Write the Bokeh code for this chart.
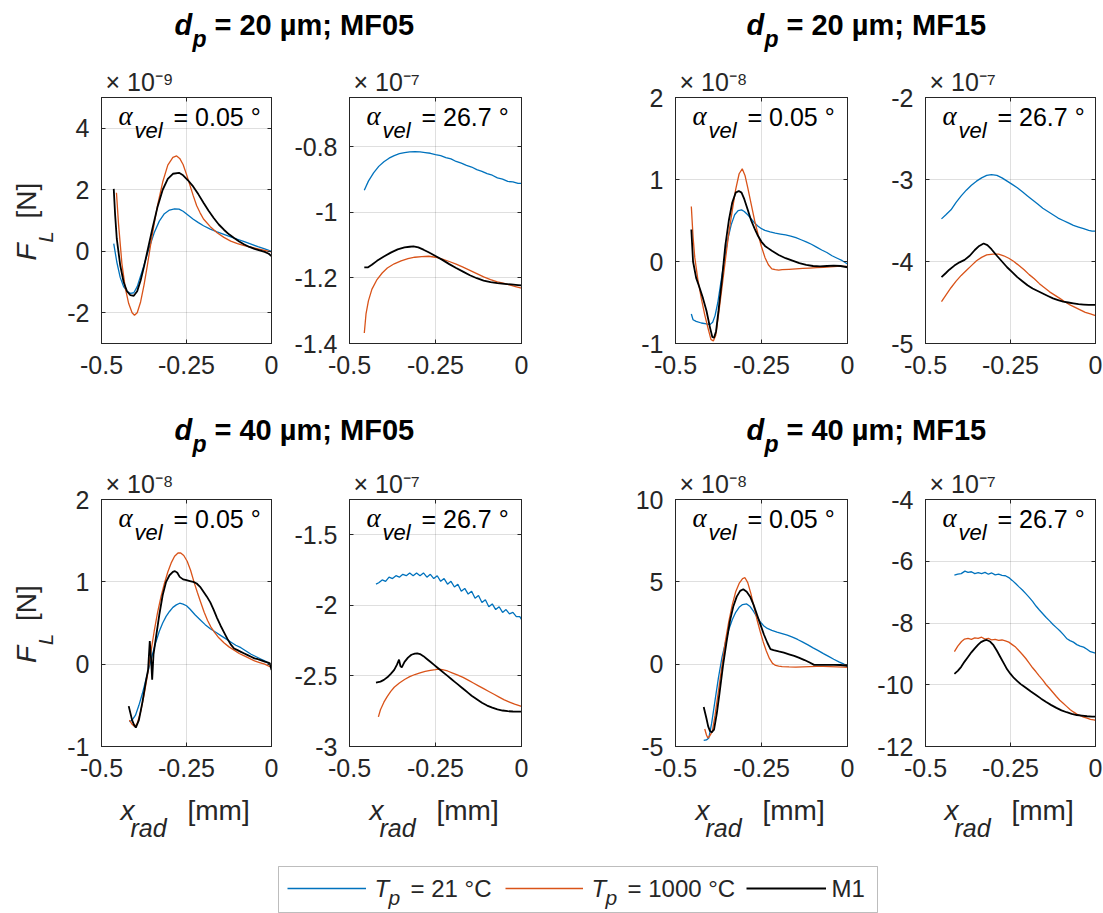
import math
from bokeh.plotting import figure
from bokeh.models import (Range1d, FixedTicker, CustomJSTickFormatter, LinearAxis,
                          Label, Legend, LegendItem, BoxAnnotation, Title)
from bokeh.layouts import column, row
from bokeh.embed import file_html
from bokeh.resources import INLINE

FONT = "Liberation Sans"
AX = "#262626"
BLUE = "#0072BD"
ORANGE = "#D95319"
BLACK = "#000000"

XTICKS = [-0.5, -0.25, 0.0]

# ---------------- data (values in units of the panel exponent) ----------------
# Panel 1: dp = 20 um, MF05, alpha 0.05 deg  (x1e-9)
p1_x_t21 = [-0.464, -0.455, -0.445, -0.435, -0.425, -0.415, -0.405, -0.395, -0.385, -0.375, -0.36, -0.345, -0.33, -0.315, -0.30, -0.285, -0.272, -0.26, -0.245, -0.23, -0.215, -0.20, -0.18, -0.16, -0.14, -0.12, -0.10, -0.08, -0.06, -0.04, -0.02, 0.0]
p1_y_t21 = [0.25, -0.35, -0.85, -1.15, -1.3, -1.37, -1.35, -1.15, -0.8, -0.45, 0.1, 0.6, 0.98, 1.22, 1.34, 1.38, 1.37, 1.3, 1.17, 1.04, 0.93, 0.83, 0.72, 0.63, 0.55, 0.47, 0.39, 0.31, 0.23, 0.15, 0.08, 0.0]
p1_x_t1000 = [-0.456, -0.45, -0.44, -0.43, -0.42, -0.41, -0.403, -0.395, -0.385, -0.375, -0.365, -0.355, -0.345, -0.335, -0.32, -0.305, -0.29, -0.279, -0.27, -0.26, -0.25, -0.24, -0.23, -0.22, -0.21, -0.20, -0.18, -0.16, -0.14, -0.12, -0.10, -0.08, -0.06, -0.04, -0.02, 0.0]
p1_y_t1000 = [1.9, 0.9, -0.4, -1.2, -1.7, -2.0, -2.08, -2.0, -1.65, -1.1, -0.45, 0.25, 0.9, 1.5, 2.25, 2.8, 3.05, 3.1, 3.02, 2.82, 2.5, 2.15, 1.8, 1.48, 1.25, 1.05, 0.8, 0.6, 0.45, 0.33, 0.25, 0.18, 0.13, 0.08, 0.03, -0.02]
p1_x_m1 = [-0.464, -0.46, -0.455, -0.445, -0.435, -0.425, -0.415, -0.405, -0.395, -0.385, -0.375, -0.365, -0.35, -0.335, -0.32, -0.305, -0.29, -0.272, -0.26, -0.245, -0.23, -0.215, -0.20, -0.185, -0.17, -0.155, -0.14, -0.125, -0.11, -0.095, -0.08, -0.065, -0.05, -0.035, -0.02, -0.008, 0.0]
p1_y_m1 = [2.03, 1.2, 0.4, -0.45, -1.0, -1.3, -1.43, -1.45, -1.3, -0.95, -0.5, 0.0, 0.75, 1.45, 2.0, 2.35, 2.52, 2.55, 2.47, 2.3, 2.1, 1.85, 1.58, 1.32, 1.08, 0.87, 0.7, 0.55, 0.43, 0.32, 0.22, 0.14, 0.08, 0.03, -0.02, -0.08, -0.16]

# Panel 2: dp = 20 um, MF05, alpha 26.7 deg  (x1e-7)
p2_x_t21 = [-0.457, -0.445, -0.43, -0.415, -0.40, -0.385, -0.37, -0.355, -0.34, -0.325, -0.31, -0.295, -0.28, -0.265, -0.25, -0.235, -0.22, -0.205, -0.19, -0.175, -0.16, -0.145, -0.13, -0.115, -0.10, -0.085, -0.07, -0.055, -0.04, -0.025, -0.01, 0.0]
p2_y_t21 = [-0.933, -0.905, -0.88, -0.86, -0.846, -0.835, -0.827, -0.821, -0.818, -0.816, -0.815, -0.816, -0.818, -0.82, -0.824, -0.827, -0.833, -0.837, -0.845, -0.85, -0.857, -0.862, -0.87, -0.875, -0.882, -0.887, -0.895, -0.899, -0.906, -0.907, -0.912, -0.912]
p2_x_t1000 = [-0.457, -0.452, -0.445, -0.435, -0.42, -0.405, -0.39, -0.37, -0.35, -0.33, -0.31, -0.29, -0.27, -0.25, -0.23, -0.21, -0.19, -0.17, -0.15, -0.13, -0.11, -0.09, -0.07, -0.05, -0.03, -0.015, 0.0]
p2_y_t1000 = [-1.368, -1.31, -1.27, -1.235, -1.205, -1.185, -1.17, -1.157, -1.148, -1.141, -1.137, -1.135, -1.134, -1.137, -1.143, -1.15, -1.158, -1.167, -1.177, -1.187, -1.197, -1.205, -1.212, -1.217, -1.223, -1.227, -1.231]
p2_x_m1 = [-0.457, -0.447, -0.435, -0.42, -0.40, -0.38, -0.36, -0.34, -0.325, -0.314, -0.30, -0.285, -0.27, -0.25, -0.23, -0.21, -0.19, -0.17, -0.15, -0.13, -0.11, -0.09, -0.07, -0.05, -0.03, -0.01, 0.0]
p2_y_m1 = [-1.168, -1.168, -1.16, -1.148, -1.135, -1.123, -1.113, -1.107, -1.105, -1.104, -1.107, -1.114, -1.122, -1.133, -1.145, -1.158, -1.17, -1.181, -1.192, -1.201, -1.208, -1.213, -1.216, -1.218, -1.22, -1.222, -1.223]

# Panel 3: dp = 20 um, MF15, alpha 0.05 deg  (x1e-8)
p3_x_t21 = [-0.454, -0.449, -0.44, -0.425, -0.41, -0.40, -0.392, -0.385, -0.377, -0.368, -0.358, -0.348, -0.338, -0.328, -0.318, -0.308, -0.30, -0.29, -0.28, -0.27, -0.26, -0.25, -0.24, -0.225, -0.21, -0.195, -0.18, -0.165, -0.15, -0.135, -0.12, -0.105, -0.09, -0.075, -0.06, -0.045, -0.03, -0.015, 0.0]
p3_y_t21 = [-0.64, -0.71, -0.73, -0.75, -0.76, -0.77, -0.74, -0.66, -0.5, -0.25, 0.02, 0.27, 0.45, 0.57, 0.62, 0.63, 0.61, 0.57, 0.52, 0.47, 0.43, 0.4, 0.38, 0.36, 0.345, 0.335, 0.325, 0.31, 0.29, 0.265, 0.24, 0.21, 0.175, 0.14, 0.11, 0.07, 0.04, 0.01, -0.03]
p3_x_t1000 = [-0.454, -0.449, -0.444, -0.435, -0.425, -0.415, -0.405, -0.397, -0.39, -0.383, -0.375, -0.365, -0.355, -0.345, -0.335, -0.325, -0.315, -0.306, -0.298, -0.29, -0.28, -0.27, -0.26, -0.25, -0.24, -0.23, -0.22, -0.21, -0.2, -0.19, -0.17, -0.15, -0.13, -0.11, -0.09, -0.07, -0.05, -0.03, -0.01, 0.0]
p3_y_t1000 = [0.67, 0.3, 0.05, -0.22, -0.45, -0.65, -0.82, -0.95, -0.97, -0.9, -0.65, -0.32, 0.02, 0.35, 0.62, 0.88, 1.07, 1.13, 1.05, 0.9, 0.7, 0.5, 0.33, 0.18, 0.05, -0.04, -0.09, -0.1, -0.105, -0.1, -0.095, -0.09, -0.085, -0.08, -0.075, -0.07, -0.065, -0.06, -0.06, -0.06]
p3_x_m1 = [-0.454, -0.449, -0.44, -0.43, -0.42, -0.41, -0.40, -0.393, -0.388, -0.382, -0.375, -0.365, -0.355, -0.345, -0.335, -0.325, -0.316, -0.308, -0.3, -0.29, -0.28, -0.27, -0.26, -0.25, -0.24, -0.23, -0.22, -0.2, -0.18, -0.16, -0.14, -0.12, -0.1, -0.08, -0.06, -0.04, -0.02, 0.0]
p3_y_m1 = [0.39, 0.0, -0.2, -0.32, -0.45, -0.6, -0.8, -0.92, -0.93, -0.85, -0.6, -0.22, 0.2, 0.5, 0.72, 0.84, 0.86, 0.84, 0.76, 0.63, 0.5, 0.4, 0.31, 0.24, 0.19, 0.16, 0.13, 0.08, 0.04, 0.01, -0.02, -0.04, -0.055, -0.06, -0.055, -0.05, -0.055, -0.07]

# Panel 4: dp = 20 um, MF15, alpha 26.7 deg  (x1e-7)
p4_x_t21 = [-0.453, -0.44, -0.425, -0.41, -0.395, -0.38, -0.365, -0.35, -0.335, -0.32, -0.306, -0.29, -0.275, -0.26, -0.245, -0.23, -0.215, -0.2, -0.185, -0.17, -0.155, -0.14, -0.125, -0.11, -0.095, -0.08, -0.065, -0.05, -0.035, -0.02, -0.01, 0.0]
p4_y_t21 = [-3.48, -3.43, -3.37, -3.28, -3.2, -3.13, -3.07, -3.02, -2.98, -2.95, -2.94, -2.95, -2.98, -3.02, -3.06, -3.1, -3.15, -3.2, -3.25, -3.3, -3.35, -3.39, -3.43, -3.47, -3.5, -3.53, -3.56, -3.58, -3.6, -3.62, -3.63, -3.63]
p4_x_t1000 = [-0.453, -0.44, -0.425, -0.41, -0.395, -0.38, -0.365, -0.35, -0.335, -0.32, -0.301, -0.285, -0.27, -0.255, -0.24, -0.225, -0.21, -0.195, -0.18, -0.165, -0.15, -0.135, -0.12, -0.105, -0.09, -0.075, -0.06, -0.045, -0.03, -0.015, 0.0]
p4_y_t1000 = [-4.49, -4.41, -4.32, -4.24, -4.17, -4.11, -4.05, -3.99, -3.95, -3.92, -3.91, -3.91, -3.93, -3.96, -4.0, -4.05, -4.1, -4.16, -4.21, -4.27, -4.32, -4.37, -4.41, -4.45, -4.49, -4.53, -4.56, -4.59, -4.62, -4.64, -4.66]
p4_x_m1 = [-0.453, -0.44, -0.43, -0.415, -0.4, -0.385, -0.37, -0.355, -0.342, -0.329, -0.318, -0.306, -0.29, -0.275, -0.26, -0.245, -0.23, -0.215, -0.2, -0.185, -0.17, -0.155, -0.14, -0.125, -0.11, -0.095, -0.08, -0.065, -0.05, -0.035, -0.02, 0.0]
p4_y_m1 = [-4.19, -4.14, -4.1, -4.05, -4.01, -3.98, -3.93, -3.86, -3.81, -3.78, -3.8, -3.85, -3.93, -4.0, -4.07, -4.13, -4.19, -4.24, -4.29, -4.33, -4.36, -4.39, -4.42, -4.45, -4.47, -4.49, -4.5, -4.51, -4.52, -4.525, -4.53, -4.53]

# Panel 5: dp = 40 um, MF05, alpha 0.05 deg  (x1e-8)
p5_x_t21 = [-0.418, -0.41, -0.4, -0.39, -0.38, -0.37, -0.36, -0.35, -0.34, -0.33, -0.32, -0.31, -0.3, -0.29, -0.28, -0.27, -0.26, -0.25, -0.24, -0.225, -0.21, -0.195, -0.18, -0.165, -0.15, -0.135, -0.12, -0.105, -0.09, -0.075, -0.06, -0.045, -0.03, -0.015, 0.0]
p5_y_t21 = [-0.70, -0.68, -0.62, -0.5, -0.36, -0.2, -0.04, 0.12, 0.27, 0.4, 0.5, 0.58, 0.64, 0.69, 0.72, 0.74, 0.73, 0.71, 0.67, 0.6, 0.54, 0.48, 0.43, 0.39, 0.35, 0.31, 0.27, 0.23, 0.2, 0.16, 0.12, 0.09, 0.06, 0.03, -0.02]
p5_x_t1000 = [-0.418, -0.41, -0.402, -0.395, -0.385, -0.375, -0.365, -0.355, -0.345, -0.335, -0.325, -0.315, -0.305, -0.295, -0.285, -0.275, -0.267, -0.258, -0.248, -0.238, -0.228, -0.218, -0.208, -0.198, -0.188, -0.178, -0.168, -0.155, -0.14, -0.125, -0.11, -0.095, -0.08, -0.065, -0.05, -0.035, -0.02, 0.0]
p5_y_t1000 = [-0.68, -0.73, -0.76, -0.72, -0.58, -0.38, -0.14, 0.14, 0.4, 0.63, 0.82, 0.98, 1.12, 1.23, 1.31, 1.35, 1.35, 1.32, 1.25, 1.14, 1.0, 0.87, 0.75, 0.63, 0.53, 0.45, 0.39, 0.32, 0.26, 0.21, 0.17, 0.13, 0.1, 0.07, 0.04, 0.02, 0.0, -0.04]
p5_x_m1 = [-0.42, -0.41, -0.404, -0.399, -0.39, -0.38, -0.37, -0.363, -0.358, -0.354, -0.351, -0.347, -0.34, -0.33, -0.32, -0.31, -0.3, -0.29, -0.284, -0.277, -0.27, -0.26, -0.25, -0.24, -0.23, -0.22, -0.21, -0.2, -0.19, -0.18, -0.17, -0.16, -0.15, -0.14, -0.13, -0.12, -0.11, -0.1, -0.09, -0.08, -0.07, -0.06, -0.05, -0.04, -0.03, -0.02, -0.01, -0.005, 0.0]
p5_y_m1 = [-0.51, -0.68, -0.74, -0.77, -0.68, -0.47, -0.22, -0.07, 0.28, 0.05, -0.19, 0.12, 0.32, 0.6, 0.84, 1.0, 1.08, 1.12, 1.13, 1.11, 1.06, 1.03, 1.02, 1.01, 1.0, 0.98, 0.94, 0.88, 0.82, 0.75, 0.66, 0.56, 0.47, 0.39, 0.31, 0.24, 0.19, 0.17, 0.15, 0.13, 0.11, 0.09, 0.07, 0.06, 0.045, 0.03, 0.02, 0.01, -0.07]

# Panel 6: dp = 40 um, MF05, alpha 26.7 deg  (x1e-7)
p6_x_t21 = [-0.423, -0.415, -0.405, -0.395, -0.385, -0.375, -0.365, -0.355, -0.345, -0.335, -0.325, -0.315, -0.305, -0.295, -0.285, -0.275, -0.265, -0.255, -0.245, -0.235, -0.225, -0.215, -0.205, -0.195, -0.185, -0.175, -0.165, -0.155, -0.145, -0.135, -0.125, -0.115, -0.105, -0.095, -0.085, -0.075, -0.065, -0.055, -0.045, -0.035, -0.025, -0.015, -0.005, 0.0]
p6_y_t21 = [-1.85, -1.84, -1.82, -1.83, -1.8, -1.81, -1.79, -1.8, -1.78, -1.79, -1.77, -1.79, -1.77, -1.79, -1.77, -1.8, -1.78, -1.81, -1.79, -1.83, -1.81, -1.85, -1.83, -1.87, -1.85, -1.9, -1.88, -1.92, -1.9, -1.95, -1.93, -1.98, -1.96, -2.01, -1.99, -2.03, -2.01, -2.05, -2.03, -2.06, -2.05, -2.08, -2.08, -2.1]
p6_x_t1000 = [-0.416, -0.41, -0.4, -0.39, -0.38, -0.37, -0.355, -0.34, -0.325, -0.31, -0.295, -0.28, -0.265, -0.25, -0.242, -0.23, -0.215, -0.2, -0.185, -0.17, -0.155, -0.14, -0.125, -0.11, -0.095, -0.08, -0.065, -0.05, -0.035, -0.02, 0.0]
p6_y_t1000 = [-2.79, -2.74, -2.686, -2.645, -2.61, -2.58, -2.55, -2.525, -2.505, -2.49, -2.478, -2.468, -2.46, -2.455, -2.452, -2.455, -2.465, -2.48, -2.495, -2.51, -2.53, -2.55, -2.57, -2.59, -2.61, -2.63, -2.65, -2.67, -2.685, -2.7, -2.715]
p6_x_m1 = [-0.423, -0.41, -0.4, -0.39, -0.38, -0.37, -0.362, -0.356, -0.352, -0.348, -0.34, -0.33, -0.32, -0.31, -0.303, -0.295, -0.285, -0.275, -0.265, -0.255, -0.245, -0.235, -0.225, -0.215, -0.205, -0.195, -0.185, -0.175, -0.165, -0.155, -0.145, -0.13, -0.115, -0.1, -0.085, -0.07, -0.055, -0.04, -0.025, -0.01, 0.0]
p6_y_m1 = [-2.547, -2.54, -2.528, -2.51, -2.485, -2.457, -2.42, -2.385, -2.43, -2.44, -2.4, -2.37, -2.35, -2.342, -2.34, -2.345, -2.36, -2.38, -2.4, -2.42, -2.44, -2.46, -2.48, -2.5, -2.52, -2.54, -2.56, -2.58, -2.6, -2.62, -2.64, -2.665, -2.69, -2.71, -2.725, -2.737, -2.745, -2.75, -2.752, -2.753, -2.753]

# Panel 7: dp = 40 um, MF15, alpha 0.05 deg  (x1e-8)
p7_x_t21 = [-0.418, -0.41, -0.403, -0.395, -0.385, -0.375, -0.365, -0.355, -0.345, -0.335, -0.325, -0.315, -0.305, -0.293, -0.283, -0.273, -0.263, -0.253, -0.243, -0.233, -0.22, -0.205, -0.19, -0.175, -0.16, -0.145, -0.13, -0.115, -0.1, -0.085, -0.07, -0.055, -0.04, -0.025, -0.01, 0.0]
p7_y_t21 = [-4.63, -4.6, -4.48, -3.6, -2.2, -0.8, 0.4, 1.3, 2.1, 2.7, 3.15, 3.45, 3.62, 3.66, 3.5, 3.2, 2.85, 2.55, 2.32, 2.17, 2.05, 1.95, 1.86, 1.76, 1.64, 1.5, 1.34, 1.17, 0.99, 0.82, 0.64, 0.47, 0.3, 0.14, 0.0, -0.14]
p7_x_t1000 = [-0.415, -0.41, -0.406, -0.4, -0.393, -0.385, -0.375, -0.365, -0.355, -0.345, -0.335, -0.325, -0.315, -0.305, -0.298, -0.29, -0.281, -0.272, -0.263, -0.254, -0.245, -0.236, -0.227, -0.218, -0.209, -0.2, -0.19, -0.17, -0.15, -0.13, -0.11, -0.09, -0.07, -0.05, -0.03, -0.01, 0.0]
p7_y_t1000 = [-3.94, -4.3, -4.48, -4.35, -4.08, -3.1, -1.6, -0.1, 1.4, 2.6, 3.6, 4.4, 4.9, 5.2, 5.25, 4.95, 4.3, 3.5, 2.7, 2.0, 1.35, 0.8, 0.35, 0.05, -0.08, -0.12, -0.15, -0.17, -0.18, -0.16, -0.15, -0.14, -0.14, -0.15, -0.16, -0.18, -0.2]
p7_x_m1 = [-0.418, -0.41, -0.405, -0.4, -0.395, -0.388, -0.38, -0.372, -0.362, -0.352, -0.342, -0.332, -0.322, -0.312, -0.303, -0.293, -0.283, -0.273, -0.263, -0.253, -0.243, -0.233, -0.224, -0.215, -0.2, -0.185, -0.17, -0.155, -0.14, -0.125, -0.11, -0.097, -0.08, -0.06, -0.04, -0.02, 0.0]
p7_y_m1 = [-2.6, -3.3, -3.78, -4.05, -4.14, -3.98, -3.0, -1.76, -0.1, 1.3, 2.6, 3.5, 4.1, 4.45, 4.55, 4.4, 4.1, 3.6, 3.0, 2.4, 1.8, 1.3, 0.91, 0.85, 0.77, 0.7, 0.6, 0.5, 0.38, 0.25, 0.1, -0.04, -0.04, -0.04, -0.04, -0.05, -0.1]

# Panel 8: dp = 40 um, MF15, alpha 26.7 deg  (x1e-7)
p8_x_t21 = [-0.415, -0.405, -0.395, -0.384, -0.375, -0.365, -0.355, -0.345, -0.335, -0.325, -0.315, -0.305, -0.295, -0.285, -0.275, -0.265, -0.255, -0.245, -0.235, -0.225, -0.215, -0.205, -0.195, -0.185, -0.175, -0.165, -0.155, -0.145, -0.135, -0.125, -0.115, -0.105, -0.095, -0.085, -0.075, -0.065, -0.055, -0.045, -0.035, -0.025, -0.015, -0.005, 0.0]
p8_y_t21 = [-6.45, -6.42, -6.4, -6.32, -6.36, -6.34, -6.4, -6.37, -6.4, -6.36, -6.42, -6.38, -6.44, -6.42, -6.46, -6.47, -6.53, -6.62, -6.72, -6.83, -6.93, -7.05, -7.17, -7.3, -7.45, -7.58, -7.7, -7.82, -7.93, -8.05, -8.15, -8.25, -8.37, -8.5, -8.57, -8.62, -8.7, -8.75, -8.78, -8.85, -8.93, -8.96, -8.98]
p8_x_t1000 = [-0.415, -0.405, -0.394, -0.385, -0.375, -0.365, -0.355, -0.345, -0.335, -0.325, -0.315, -0.305, -0.295, -0.285, -0.275, -0.265, -0.255, -0.245, -0.235, -0.225, -0.215, -0.205, -0.195, -0.185, -0.175, -0.165, -0.155, -0.145, -0.135, -0.125, -0.115, -0.105, -0.095, -0.085, -0.075, -0.065, -0.055, -0.045, -0.035, -0.025, -0.015, -0.005, 0.0]
p8_y_t1000 = [-8.93, -8.75, -8.6, -8.52, -8.5, -8.53, -8.48, -8.5, -8.46, -8.52, -8.5, -8.55, -8.53, -8.56, -8.55, -8.58, -8.62, -8.7, -8.78, -8.9, -9.02, -9.15, -9.3, -9.45, -9.58, -9.72, -9.85, -10.0, -10.12, -10.25, -10.38, -10.5, -10.6, -10.7, -10.8, -10.88, -10.95, -11.0, -11.05, -11.08, -11.12, -11.14, -11.15]
p8_x_m1 = [-0.415, -0.405, -0.395, -0.385, -0.375, -0.365, -0.355, -0.345, -0.337, -0.328, -0.32, -0.31, -0.3, -0.29, -0.28, -0.27, -0.26, -0.25, -0.24, -0.23, -0.22, -0.21, -0.2, -0.19, -0.175, -0.16, -0.145, -0.13, -0.115, -0.1, -0.085, -0.07, -0.055, -0.04, -0.025, -0.01, 0.0]
p8_y_m1 = [-9.65, -9.55, -9.42, -9.25, -9.1, -8.95, -8.82, -8.7, -8.62, -8.57, -8.55, -8.6, -8.72, -8.9, -9.1, -9.3, -9.5, -9.65, -9.78, -9.88, -9.98, -10.06, -10.14, -10.22, -10.33, -10.45, -10.56, -10.66, -10.75, -10.83, -10.89, -10.94, -10.98, -11.0, -11.02, -11.03, -11.03]

# axis limits / ticks / exponents per panel
YLIMS = [(-3, 5), (-1.4, -0.65), (-1, 2), (-5, -2), (-1, 2), (-3, -1.25), (-5, 10), (-12, -4)]
YTICKS = [[-2, 0, 2, 4], [-1.4, -1.2, -1, -0.8], [-1, 0, 1, 2], [-5, -4, -3, -2],
          [-1, 0, 1, 2], [-3, -2.5, -2, -1.5], [-5, 0, 5, 10], [-12, -10, -8, -6, -4]]
EXPONENTS = ["-9", "-7", "-8", "-7", "-8", "-7", "-8", "-7"]
ANGLES = ["0.05", "26.7", "0.05", "26.7", "0.05", "26.7", "0.05", "26.7"]
TITLES = ["20 µm; MF05", "20 µm; MF15", "40 µm; MF05", "40 µm; MF15"]
LEGEND_LABELS = ["21 °C", "1000 °C", "M1"]

SERIES = [
    (p1_x_t21, p1_y_t21, p1_x_t1000, p1_y_t1000, p1_x_m1, p1_y_m1),
    (p2_x_t21, p2_y_t21, p2_x_t1000, p2_y_t1000, p2_x_m1, p2_y_m1),
    (p3_x_t21, p3_y_t21, p3_x_t1000, p3_y_t1000, p3_x_m1, p3_y_m1),
    (p4_x_t21, p4_y_t21, p4_x_t1000, p4_y_t1000, p4_x_m1, p4_y_m1),
    (p5_x_t21, p5_y_t21, p5_x_t1000, p5_y_t1000, p5_x_m1, p5_y_m1),
    (p6_x_t21, p6_y_t21, p6_x_t1000, p6_y_t1000, p6_x_m1, p6_y_m1),
    (p7_x_t21, p7_y_t21, p7_x_t1000, p7_y_t1000, p7_x_m1, p7_y_m1),
    (p8_x_t21, p8_y_t21, p8_x_t1000, p8_y_t1000, p8_x_m1, p8_y_m1),
]

SUP = {"-": "\u207b", "7": "\u2077", "8": "\u2078", "9": "\u2079"}

# ---------------- page geometry ----------------
PAGE_W = 1103
YLAB_W = 60
# (frame width, left border, right border) for the four panel columns
COLS = [(170, 101 - YLAB_W, 12), (172, 66, 12), (172, 142, 12), (170, 66, 8)]
FRAME_LEFT = [101, 349, 675, 925]
ROW_FH = [246, 247]
ROW_TOP = 40
ROW_BOTTOM = [55, 42]
STRIP_TOP_H = [57, 61]
TITLE_BASE = [22, 19]
XLAB_H = 58
LEG_H = 67
MID = 0.35  # distance from alphabetic baseline to text middle, in em


# ---------------- helpers ----------------
def txt(fig, x, y, s, size, style="normal", font=FONT, angle=0.0, color="black", align="left"):
    """Place text so that its alphabetic baseline starts at (x, y) (screen px, y up)."""
    if angle == 0.0:
        ym, xm = y + MID * size, x
    else:  # rotated by +90 deg: glyph tops point left
        ym, xm = y, x - MID * size
    fig.add_layout(Label(x=xm, y=ym, x_units="screen", y_units="screen", text=s,
                         text_font=font, text_font_size=f"{size}px", text_font_style=style,
                         text_color=color, angle=angle, text_align=align,
                         text_baseline="middle"))


def strip(w, h, top=0, bottom=0):
    s = figure(width=w, height=h, x_range=(0, 1), y_range=(0, 1),
               x_axis_type=None, y_axis_type=None, output_backend="svg",
               toolbar_location=None, min_border_left=0, min_border_right=0,
               min_border_top=top, min_border_bottom=bottom)
    s.outline_line_color = None
    s.grid.visible = False
    s.background_fill_color = "white"
    s.border_fill_color = "white"
    return s


def style_axis(ax, labels=True):
    ax.axis_line_color = AX
    ax.major_tick_line_color = AX
    ax.major_tick_in = 4
    ax.major_tick_out = 0
    ax.minor_tick_line_color = None
    if labels:
        ax.formatter = CustomJSTickFormatter(code="return String(tick);")
        ax.major_label_text_font = FONT
        ax.major_label_text_font_size = "25px"
        ax.major_label_text_color = AX
        ax.major_label_standoff = 12
    else:
        ax.formatter = CustomJSTickFormatter(code="return '';")
        ax.major_label_text_font_size = "1px"
        ax.major_label_standoff = 0


def panel(i, fw, fh, bl, br, bt, bb):
    p = figure(frame_width=fw, frame_height=fh, min_border_left=bl, min_border_right=br,
               min_border_top=bt, min_border_bottom=bb,
               x_range=Range1d(-0.5, 0.0), y_range=Range1d(*YLIMS[i]),
               output_backend="svg", toolbar_location=None)
    p.background_fill_color = "white"
    p.border_fill_color = "white"
    p.outline_line_color = AX
    p.outline_line_width = 1
    p.xaxis.ticker = FixedTicker(ticks=XTICKS)
    p.yaxis.ticker = FixedTicker(ticks=YTICKS[i])
    for ax in list(p.xaxis) + list(p.yaxis):
        style_axis(ax, True)
    ra = LinearAxis(ticker=FixedTicker(ticks=YTICKS[i]))
    style_axis(ra, False)
    p.add_layout(ra, "right")
    ta = LinearAxis(ticker=FixedTicker(ticks=XTICKS))
    style_axis(ta, False)
    p.add_layout(ta, "above")
    # exponent of the y values, above the top-left corner of the frame
    expo = "× 10" + "".join(SUP[c] for c in EXPONENTS[i])
    p.add_layout(Title(text=expo, align="left", offset=4, standoff=4,
                       vertical_align="bottom", text_font=FONT, text_font_size="25px",
                       text_font_style="normal", text_color=AX), "above")
    p.grid.grid_line_color = AX
    p.grid.grid_line_alpha = 0.15

    xa, ya, xb, yb, xc, yc = SERIES[i]
    p.line(xa, ya, line_color=BLUE, line_width=1.3)
    p.line(xb, yb, line_color=ORANGE, line_width=1.3)
    p.line(xc, yc, line_color=BLACK, line_width=1.8)

    # angle annotation inside the frame
    txt(p, 17, fh - 28, "α", 27, style="italic", font="Liberation Serif")
    txt(p, 33, fh - 41, "vel", 22, style="italic")
    txt(p, 72, fh - 28, "= " + ANGLES[i] + " °", 25)
    return p


def top_strip(r):
    h = STRIP_TOP_H[r]
    t = strip(PAGE_W, h)
    base = TITLE_BASE[r]
    for k, x0 in enumerate([174, 746]):
        txt(t, x0, base, "d", 29, style="bold italic")
        txt(t, x0 + 18, base - 12, "p", 23, style="bold italic")
        txt(t, x0 + 40, base, "= " + TITLES[2 * r + k], 29, style="bold")
    return t


def ylabel_strip(r):
    fh = ROW_FH[r]
    s = strip(YLAB_W, ROW_TOP + fh + ROW_BOTTOM[r], top=ROW_TOP, bottom=ROW_BOTTOM[r])
    c = fh / 2.0
    txt(s, 36, c - 40, "F", 28, style="italic", angle=math.pi / 2, color=AX)
    txt(s, 52, c - 22, "L", 20, style="italic", angle=math.pi / 2, color=AX)
    txt(s, 36, c + 2, "[N]", 28, angle=math.pi / 2, color=AX)
    return s


rows = []
for r in range(2):
    figs = [ylabel_strip(r)]
    for j, (fw, bl, br) in enumerate(COLS):
        figs.append(panel(4 * r + j, fw, ROW_FH[r], bl, br, ROW_TOP, ROW_BOTTOM[r]))
    rows.append(row(*figs))

# x-axis labels below the second row
xl = strip(PAGE_W, XLAB_H)
for j, (fw, bl, br) in enumerate(COLS):
    cx = FRAME_LEFT[j] + fw / 2.0
    txt(xl, cx - 66, 26, "x", 28, style="italic", color=AX)
    txt(xl, cx - 56, 10, "rad", 25, style="italic", color=AX)
    txt(xl, cx + 1, 26, "[mm]", 28, color=AX)

# legend strip
lg = strip(PAGE_W, LEG_H)
lg.add_layout(BoxAnnotation(left=278, right=877, bottom=1, top=47,
                            left_units="screen", right_units="screen",
                            bottom_units="screen", top_units="screen",
                            fill_alpha=0, line_color=AX, line_width=1))
nan = float("nan")
r_b = lg.line(x=[nan], y=[nan], line_color=BLUE, line_width=1.3)
r_o = lg.line(x=[nan], y=[nan], line_color=ORANGE, line_width=1.3)
r_k = lg.line(x=[nan], y=[nan], line_color=BLACK, line_width=1.8)
for rr, vx, gw in [(r_b, 287, 79), (r_o, 505, 78), (r_k, 746, 80)]:
    leg = Legend(items=[LegendItem(label=" ", renderers=[rr])], location=(vx, 15),
                 orientation="horizontal", padding=0, margin=0, spacing=0,
                 glyph_width=gw, glyph_height=20, label_width=0, label_height=20,
                 label_standoff=0, border_line_color=None, background_fill_alpha=0,
                 label_text_font_size="4px")
    lg.add_layout(leg)
txt(lg, 374, 17, "T", 24, style="italic", color=AX)
txt(lg, 388, 9, "p", 21, style="italic", color=AX)
txt(lg, 410, 17, "= " + LEGEND_LABELS[0], 24, color=AX)
txt(lg, 591, 17, "T", 24, style="italic", color=AX)
txt(lg, 605, 9, "p", 21, style="italic", color=AX)
txt(lg, 627, 17, "= " + LEGEND_LABELS[1], 24, color=AX)
txt(lg, 831, 17, LEGEND_LABELS[2], 24, color=AX)

layout = column(top_strip(0), rows[0], top_strip(1), rows[1], xl, lg)

with open("out.html", "w", encoding="utf-8") as f:
    f.write(file_html(layout, INLINE, title="Lift force"))
